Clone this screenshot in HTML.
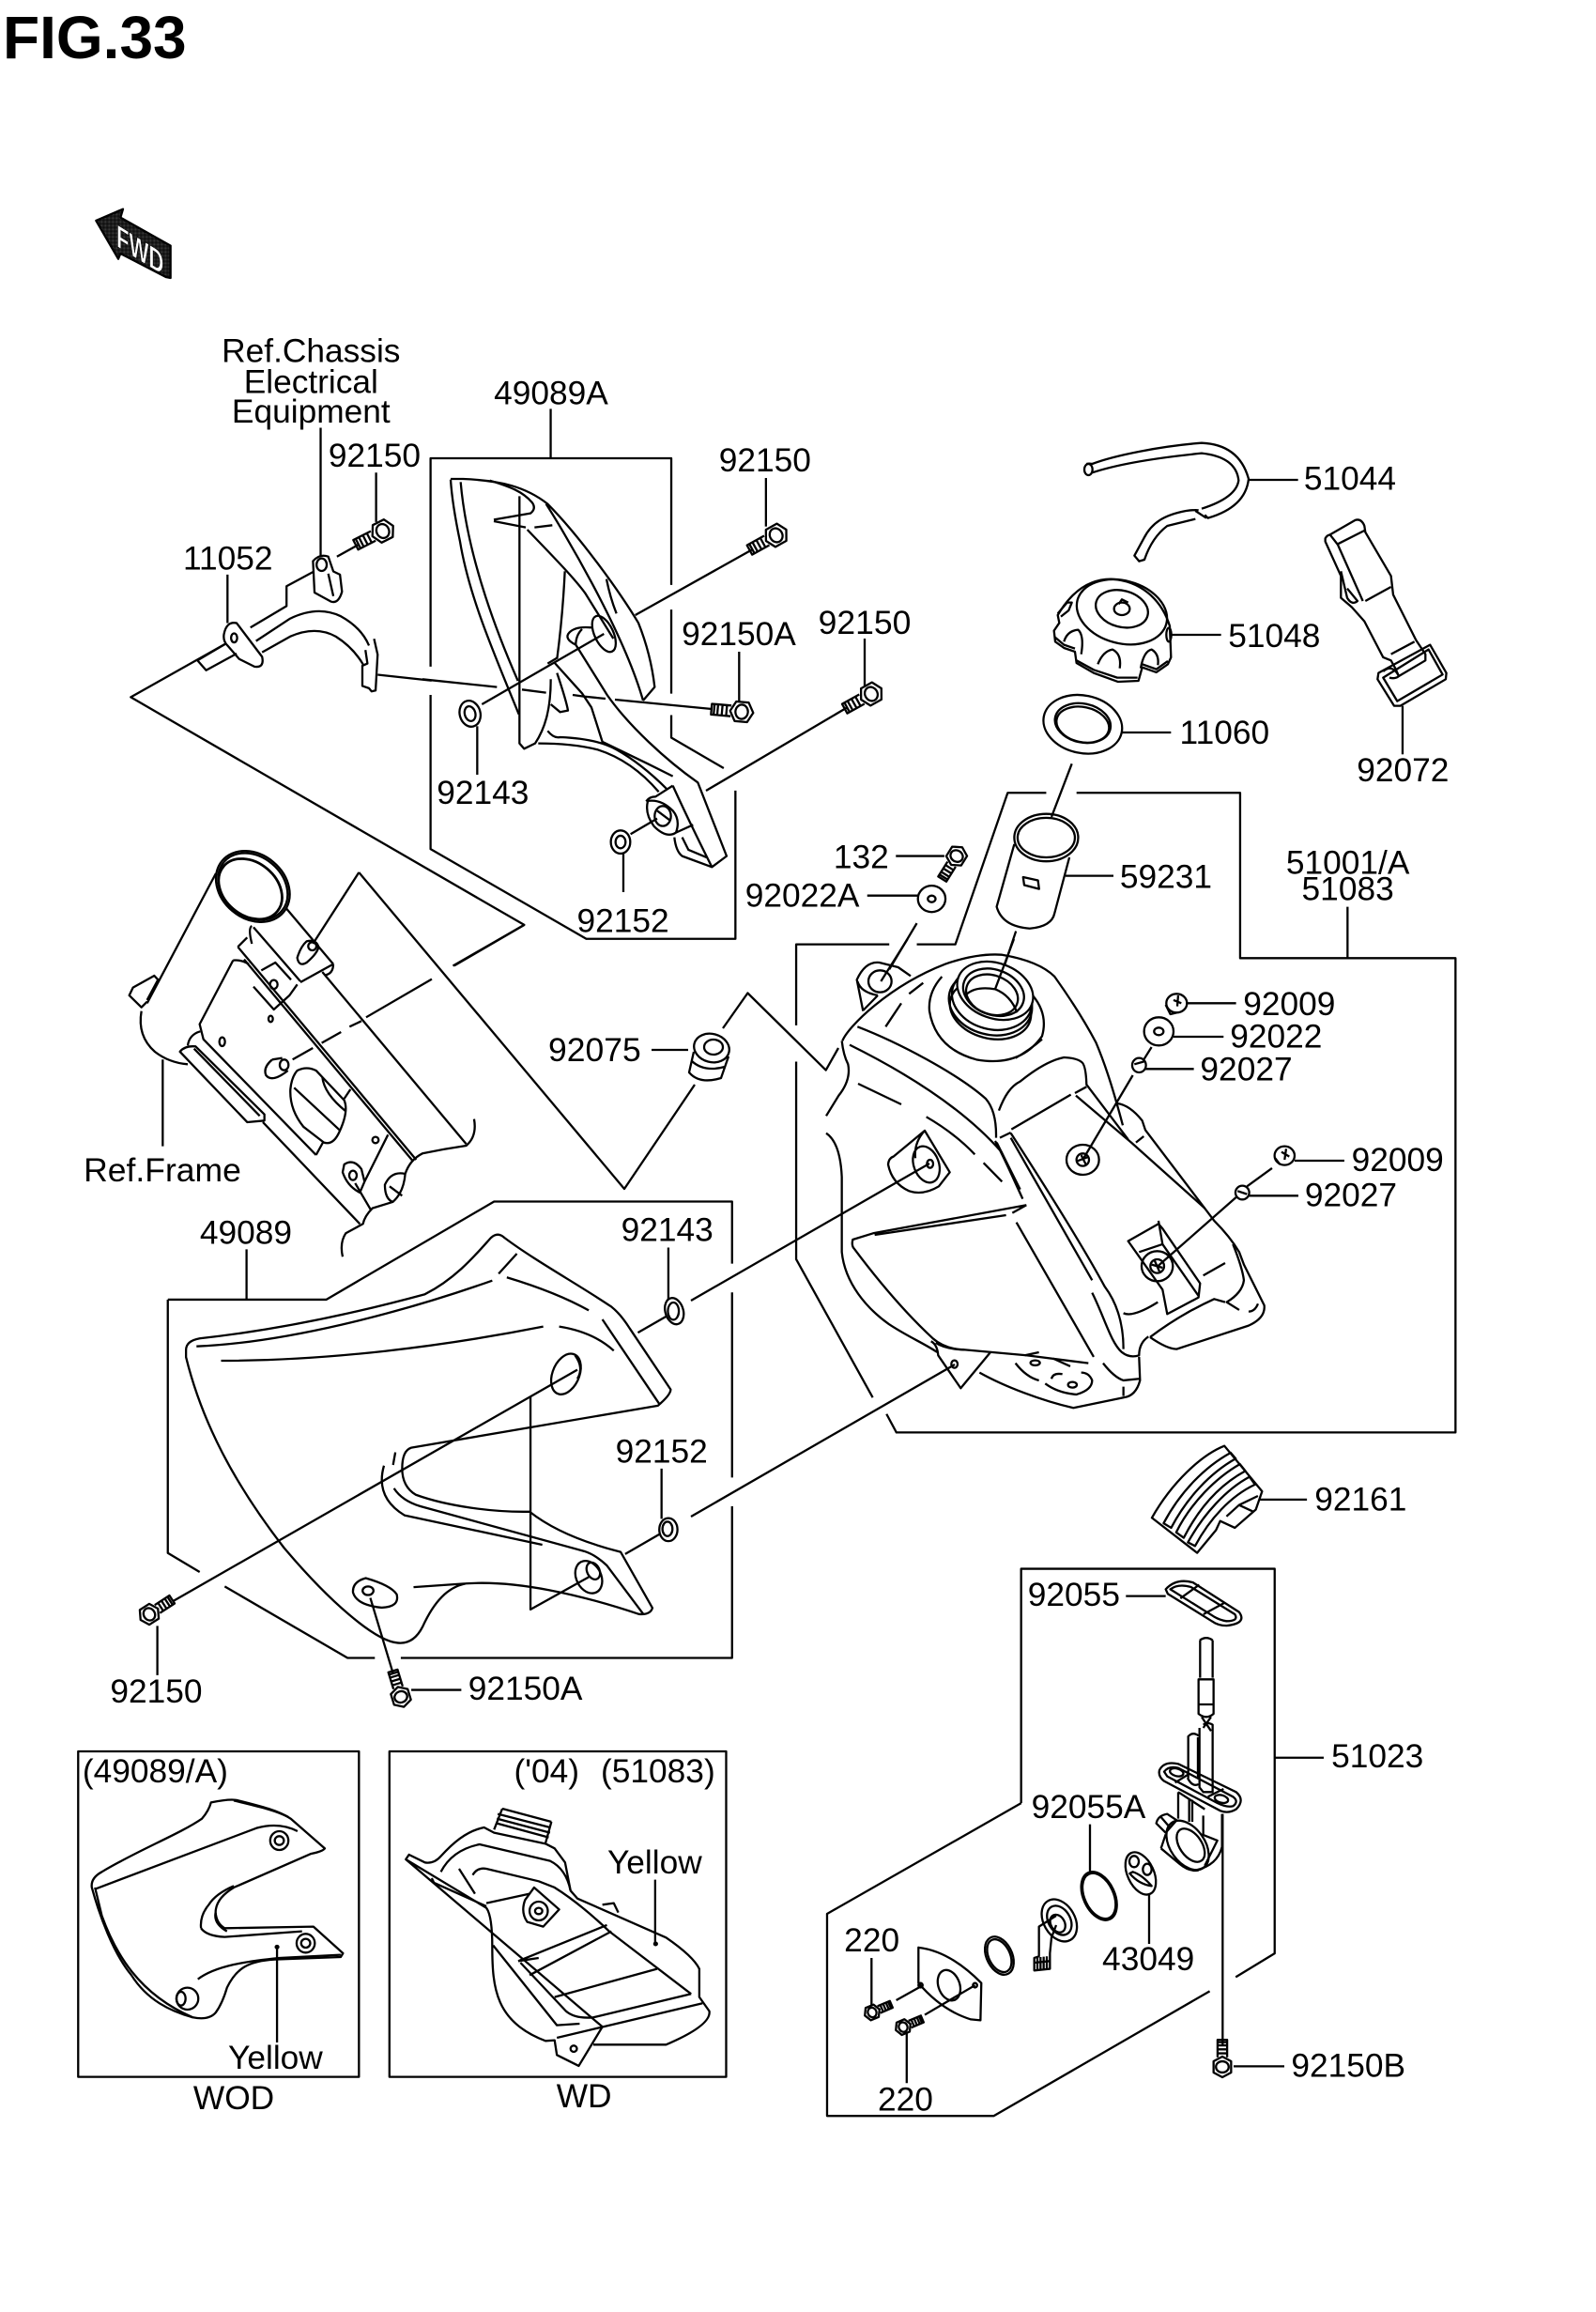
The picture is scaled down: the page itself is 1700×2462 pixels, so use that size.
<!DOCTYPE html>
<html><head><meta charset="utf-8"><style>
html,body{margin:0;padding:0;background:#fff}
svg{display:block}
path,ellipse,rect,circle{fill:none;stroke:#000;stroke-width:2.3;vector-effect:non-scaling-stroke;stroke-linejoin:round}
text{font-family:"Liberation Sans",sans-serif;font-size:35.5px;fill:#000}
.m{text-anchor:middle}
</style></head><body>
<svg width="1700" height="2462" viewBox="0 0 1700 2462" xmlns="http://www.w3.org/2000/svg">
<defs>
<pattern id="dots" width="4" height="4" patternUnits="userSpaceOnUse"><rect width="4" height="4" style="fill:#000;stroke:none"/><rect x="1" y="1" width="1.4" height="1.4" style="fill:#fff;stroke:none"/></pattern>
<g id="bolt">
<path d="M-7 -11 L7 -11 L13 0 L7 11 L-7 11 L-13 0 Z" style="fill:#fff"/>
<ellipse cx="0" cy="0" rx="7" ry="8"/>
<path d="M-12 -6 H-34 V6 H-12 M-17 -6 V6 M-22 -6 V6 M-27 -6 V6 M-31 -6 V6"/>
</g>
</defs>
<rect width="1700" height="2462" style="fill:#fff;stroke:none"/>

<text x="3" y="62" style="font-size:64px;font-weight:bold">FIG.33</text>
<g transform="scale(.3333)">
<path d="M307 705 L393 668 L385 695 L545 785 V888 L530 885 L385 810 L378 827 Z" style="fill:url(#dots)"/>
</g>
<text transform="matrix(.85 .53 0 1.3 124 262)" style="font-size:26px;font-weight:bold;fill:#fff;stroke:#000;stroke-width:.5">FWD</text>

<!-- upper-left group -->
<g transform="translate(0 300) scale(.5421 .4783)">
<path d="M630 325 V610 M739 425 V535 M662 612 L705 585 M447 652 V760 M1082 283 V393"/>
<path d="M846 857 V393 H1319 V675 M1319 730 V917 M1319 965 V1015 L1422 1083 M846 920 V1263 L1152 1463 H1445 V1133"/>
<path d="M445 805 L257 925 L1030 1432 L890 1523"/>
<path d="M615 622 Q628 605 645 612 L655 645 L668 652 L672 690 Q665 718 650 712 L618 692 Z"/>
<ellipse cx="632" cy="630" rx="10" ry="14"/><path d="M645 650 L655 700"/>
<path d="M617 645 L563 678 V722 L492 770"/>
<path d="M440 785 Q445 755 465 760 L515 835 Q520 860 500 857 L470 840 L447 810 Q438 800 440 785 Z"/>
<ellipse cx="460" cy="793" rx="6" ry="10"/>
<path d="M503 800 L570 750 Q625 720 670 745 Q710 770 725 810 M515 825 L570 790 Q620 765 660 790 Q695 815 715 855"/>
<path d="M735 795 L742 830 L738 910 L730 912 L725 905 L712 900 V855 L722 850 L718 820"/>
<path d="M388 843 L405 865 L465 828 M388 843 L445 805"/>
<path d="M742 875 L848 888"/>
<path d="M1505 437 V545"/>
</g>

<!-- panel 49089A -->
<g transform="translate(450 490) scale(.3333)">
<path d="M90 62 Q95 140 120 260 C150 440 230 620 308 812 M122 70 C135 220 180 420 305 705"/>
<path d="M90 60 H130 C250 65 330 85 400 140 C500 240 630 420 690 520 Q730 620 742 725 L705 768 M395 140 C440 210 640 540 705 768"/>
<path d="M228 190 L345 170 Q365 155 350 135 C320 100 280 85 215 65 M228 195 L330 215 M358 215 L415 208 M335 222 C390 280 480 370 520 425 Q560 490 610 570"/>
<path d="M310 115 V905 L325 922 L360 905 C390 860 410 800 410 700 M430 680 Q460 770 465 800 L440 805 L410 780"/>
<path d="M455 355 C450 460 440 560 430 635 M588 380 Q600 440 620 490"/>
<ellipse cx="580" cy="555" rx="30" ry="62" transform="rotate(-25 580 555)"/>
<path d="M490 590 Q450 570 470 550 Q490 530 540 535 M490 590 Q490 560 510 540"/>
<path d="M190 780 L580 555 M400 650 L430 632" />
<path d="M420 645 L510 745 L540 790 L575 900 L720 970 L800 1010 M490 590 L590 750 C660 850 780 960 880 1030 L972 1265 L925 1300 L830 1265 Q810 1250 805 1205"/>
<path d="M370 905 Q480 905 560 925 Q670 960 755 1060 M400 865 Q420 890 440 885 Q560 890 620 925 Q700 970 780 1050"/>
<path d="M715 1090 Q725 1075 745 1075 L800 1040 M720 1090 Q710 1130 740 1170 Q780 1210 810 1190 L865 1165 M715 1090 Q760 1080 800 1120 Q825 1150 810 1190 M830 1205 L850 1245 L910 1270 M800 1040 Q850 1150 925 1300"/>
<ellipse cx="768" cy="1137" rx="26" ry="32"/><path d="M750 1120 L790 1150"/>
<ellipse cx="152" cy="810" rx="33" ry="42" transform="rotate(-15 152 810)"/><ellipse cx="152" cy="810" rx="17" ry="24" transform="rotate(-15 152 810)"/>
<path d="M175 850 V1005"/>
<ellipse cx="633" cy="1220" rx="31" ry="37"/><ellipse cx="633" cy="1220" rx="16" ry="20"/>
<path d="M642 1255 V1380 M665 1195 L750 1145"/>
<path d="M0 700 L238 725 M318 733 L395 743 M480 750 L515 755 M515 755 L585 762 M615 765 L925 795 M680 495 L1055 285 M1012 612 V775"/>
</g>
<path d="M752 842 L903 753 M921 680 V730"/>
<use href="#bolt" transform="translate(407.7 565.5) rotate(-27) scale(.95)"/>
<use href="#bolt" transform="translate(826.7 570) rotate(-29) scale(.95)"/>
<use href="#bolt" transform="translate(790 758) rotate(5) scale(.95)"/>
<use href="#bolt" transform="translate(928 739) rotate(-29) scale(.95)"/>
<use href="#bolt" transform="translate(1019 911.6) rotate(-58) scale(.85)"/>

<g transform="translate(0 300) scale(.9949) translate(0 -300)">
<text class="m" x="333" y="386">Ref.Chassis</text>
<text class="m" x="333" y="419">Electrical</text>
<text class="m" x="333" y="451">Equipment</text>
<text class="m" x="590" y="431">49089A</text>
<text class="m" x="401" y="498">92150</text>
<text class="m" x="244" y="608">11052</text>
<text class="m" x="819" y="503">92150</text>
<text class="m" x="791" y="689">92150A</text>
<text class="m" x="517" y="859">92143</text>
<text class="m" x="667" y="996">92152</text>
</g>
<text class="m" x="921" y="675">92150</text>

<!-- frame -->
<g transform="translate(60 880) scale(.3333)">
<ellipse cx="628" cy="192" rx="128" ry="102" transform="rotate(40 628 192)"/>
<ellipse cx="628" cy="192" rx="121" ry="95" transform="rotate(40 628 192)"/>
<ellipse cx="620" cy="200" rx="112" ry="84" transform="rotate(40 620 200)" style="stroke-width:2.8"/>
<path d="M510 150 L290 565 M735 262 L885 440 M290 555 L325 490 L313 477 L245 515 L233 540 L272 578 L290 560"/>
<path d="M272 590 Q258 670 315 720 Q360 755 420 760"/>
<path d="M625 318 Q612 325 625 375 M630 322 L780 495 M885 440 L780 498 M885 440 Q885 470 860 475 M850 465 L1310 1015"/>
<path d="M770 420 Q780 385 800 367 Q830 360 838 385 Q835 405 800 435 Q775 450 770 420 Z"/>
<ellipse cx="818" cy="383" rx="13" ry="13"/>
<path d="M820 375 L967 147"/>
<path d="M1495 315 L1272 445 M1200 488 L990 610 M975 622 L937 640 M910 657 L848 692 M820 708 L755 745"/>
<path d="M580 385 L610 355 M580 385 L1150 1065 M600 425 L1140 1070"/>
<path d="M565 428 L458 632 L470 680 L830 1050 M565 428 Q590 425 615 440"/>
<path d="M655 460 L700 435 L750 490 M630 512 L695 585 L745 540 L770 505"/>
<ellipse cx="695" cy="505" rx="12" ry="14"/>
<ellipse cx="685" cy="615" rx="7" ry="10"/><ellipse cx="530" cy="688" rx="9" ry="14"/>
<path d="M395 720 L610 945 L665 940 L665 920 L445 703 Q410 700 395 720 Z M420 700 Q425 665 460 655 M440 710 L650 925 M660 945 L970 1270"/>
<ellipse cx="728" cy="762" rx="14" ry="17"/>
<path d="M690 745 Q660 770 670 795 Q690 820 740 780 M690 745 L722 740"/>
<path d="M770 780 Q800 765 830 780 L920 875 Q935 910 905 975 Q885 1020 855 1010 L790 960 Q745 905 748 840 Q752 800 770 780 Z"/>
<path d="M760 835 L905 970 M850 800 C855 850 900 890 925 910 M920 870 L940 840 M852 1010 L830 1050"/>
<ellipse cx="1020" cy="1002" rx="10" ry="10"/>
<path d="M1060 985 L985 1135 M920 1080 Q950 1060 975 1095 L985 1135 L970 1170 Q930 1150 915 1105 Z M955 1140 L1005 1225"/>
<ellipse cx="948" cy="1115" rx="12" ry="15"/>
<path d="M1115 1110 Q1070 1100 1050 1145 Q1050 1190 1075 1200 M1065 1150 L1105 1180"/>
<path d="M1335 935 Q1345 990 1310 1020 Q1240 1030 1170 1045 Q1130 1065 1115 1110 Q1110 1170 1075 1200 L1010 1220 Q985 1245 980 1270 L925 1300 Q905 1330 915 1375"/>
<path d="M340 745 V1022"/>
</g>
<text class="m" x="173" y="1258">Ref.Frame</text>

<!-- zigzag + grommet -->
<path d="M382.3 929 L665 1266 L740 1155 M770 1095 L796.4 1057.5 L879.7 1139.6 L893 1116"/>
<path d="M694 1118 H733"/>
<ellipse cx="758" cy="1116" rx="19" ry="15" transform="rotate(15 758 1116)"/>
<ellipse cx="760" cy="1115" rx="10" ry="8"/>
<path d="M739 1120 L734 1142 Q745 1155 768 1148 L776 1125 M737 1130 Q750 1142 772 1136"/>
<text x="584" y="1130">92075</text>

<!-- box + 92022A + filter -->
<g transform="translate(780 450) scale(.5867 .7015)">
<path d="M570 562 H500 L405 792 H335 M285 792 H116 V915 M116 970 V1270 L255 1480 M280 1505 L298 1533 H1313 V813 H922 V562 H625 M1117 735 V813"/>
<ellipse cx="362" cy="723" rx="25" ry="20"/><ellipse cx="362" cy="723" rx="7" ry="5"/>
<path d="M245 718 H338 M335 760 L285 830 M297 658 H385"/>
<ellipse cx="570" cy="630" rx="58" ry="36"/><ellipse cx="570" cy="630" rx="52" ry="30"/>
<path d="M512 640 L480 735 Q490 765 540 768 Q580 765 585 745 L612 660 M528 690 L555 695 L557 708 L530 702 Z M605 688 H692 M515 772 L478 865"/>
</g>

<!-- hose, cap, gasket, strap -->
<g transform="translate(1120 470) scale(.3333)">
<ellipse cx="118" cy="90" rx="13" ry="18"/>
<path d="M112 72 Q120 70 130 72 C200 45 350 15 480 5 Q600 10 630 120 Q620 210 500 245 L490 235 M130 100 C220 70 360 50 480 38 Q590 50 598 125 Q590 180 480 215 M470 220 Q460 218 430 222 C360 235 320 260 295 310 L265 365 L280 383 L297 378 C310 340 330 300 370 270 L460 248 M460 222 L495 245"/>
<path d="M632 123 H788"/>
<path d="M20 555 C70 470 130 440 190 440 C280 445 350 500 378 590 L382 690 L372 712 L335 738 L290 722 L278 765 L212 768 L135 740 L80 708 L75 672 L40 660 L12 640 L8 605 L25 580 Z"/>
<path d="M10 625 L40 650 L75 662 M80 700 L135 730 L210 755 L275 755 M290 712 L335 728 L372 702"/>
<path d="M40 640 Q50 605 85 602 Q105 620 95 680 M148 712 Q165 670 195 665 Q225 680 218 725 M285 725 Q295 670 320 665 Q345 680 340 715 M20 550 L50 515 L65 515 L55 540 L30 560"/>
<ellipse cx="225" cy="545" rx="147" ry="100" transform="rotate(15 225 545)"/>
<ellipse cx="225" cy="535" rx="85" ry="58" transform="rotate(15 225 535)"/>
<ellipse cx="225" cy="535" rx="25" ry="20"/>
<path d="M215 520 L225 505 L245 515"/>
<ellipse cx="375" cy="618" rx="8" ry="22"/>
<path d="M385 618 H542"/>
<ellipse cx="100" cy="904" rx="127" ry="92" transform="rotate(12 100 904)"/>
<ellipse cx="100" cy="900" rx="90" ry="62" transform="rotate(12 100 900)"/>
<ellipse cx="100" cy="905" rx="85" ry="56" transform="rotate(12 100 905)"/>
<path d="M225 930 H382 M65 1030 L0 1200"/>
<path d="M875 310 Q880 300 890 298 L970 252 Q990 245 1000 270 L1003 290 L1085 430 L1092 490 L1165 635 L1195 680 L1195 700 L1110 750 Q1100 725 1085 700 L1060 690 L1000 575 L960 530 L925 500 V430 L875 320 Z"/>
<path d="M890 298 L915 330 L995 510 M915 328 L1000 285 M1003 510 L1085 465 M1085 680 L1160 640 M925 415 L945 500 Q960 525 978 510 L945 470"/>
<path d="M1045 740 L1210 650 L1262 740 L1260 760 L1115 845 L1095 845 L1042 760 Z M1060 755 L1205 665 L1250 745 L1105 830 Z M1060 735 Q1090 710 1110 750 Q1100 760 1080 755"/>
<path d="M1122 845 V1000"/>
</g>

<!-- tank -->
<g transform="translate(880 1000) scale(.3333)">
<path d="M52 325 C70 280 200 150 380 80 Q480 45 560 50 Q680 70 730 120 C780 190 830 270 862 330 C900 420 925 510 948 595"/>
<path d="M100 280 C230 330 420 430 510 510 Q545 550 543 635 M75 338 C200 400 420 520 560 680 L628 830 M540 645 C570 700 600 770 628 830"/>
<path d="M50 325 Q55 370 70 400 Q80 450 40 500 L0 565"/>
<path d="M0 620 Q45 650 50 760 V1000 C60 1100 130 1180 200 1230 C260 1270 310 1290 355 1320 M350 1290 Q380 1310 440 1312 L640 1330 L838 1355"/>
<path d="M335 1285 Q355 1295 358 1330 L430 1435 L525 1320"/>
<ellipse cx="410" cy="1358" rx="10" ry="12"/>
<path d="M190 280 L240 205 M265 175 L310 140 M102 462 L240 528 M320 568 Q410 620 475 688 M503 715 L562 775"/>
<path d="M118 230 L98 130 Q125 70 170 75 L230 90 L270 118 M100 135 Q110 170 165 180 M118 228 L165 180 M175 135 L260 0"/>
<ellipse cx="172" cy="135" rx="37" ry="35"/>
<path d="M370 120 Q325 170 330 230 Q350 350 480 385 Q620 410 690 310 Q710 240 660 180 M605 380 Q650 355 690 320"/>
<ellipse cx="525" cy="205" rx="135" ry="100" transform="rotate(15 525 205)"/>
<ellipse cx="525" cy="225" rx="132" ry="92" transform="rotate(15 525 225)"/>
<ellipse cx="530" cy="190" rx="130" ry="98" transform="rotate(15 530 190)"/>
<ellipse cx="540" cy="165" rx="125" ry="88" transform="rotate(20 540 165)" style="fill:#fff"/>
<ellipse cx="535" cy="170" rx="100" ry="72" transform="rotate(20 535 170)"/>
<ellipse cx="530" cy="178" rx="85" ry="62" transform="rotate(20 530 178)"/>
<path d="M450 175 Q480 150 540 160 Q590 180 610 235 M540 160 L600 0"/>
<path d="M552 548 C570 500 590 470 620 455 Q700 390 760 378 Q800 380 815 392 Q830 400 832 465 L965 640"/>
<path d="M592 608 L782 497 M555 635 L590 618 M795 492 L832 472 M798 500 L975 650 L1210 860"/>
<path d="M930 525 Q970 530 1010 580 L1020 610 L1240 900 Q1290 950 1320 1000 L1335 1040 L1400 1170 Q1405 1210 1350 1235 L1120 1310 Q1090 1310 1035 1272"/>
<path d="M1300 975 Q1330 1050 1335 1090 Q1330 1130 1280 1160 L1320 1185 M1350 1190 Q1370 1190 1380 1165"/>
<path d="M1030 1270 Q1000 1290 1000 1330 Q970 1340 945 1320 C910 1290 890 1210 850 1130 M1035 1272 Q1130 1200 1240 1150 L1275 1160 M950 1195 Q980 1210 1060 1160"/>
<path d="M590 620 C700 790 820 980 890 1110 Q950 1190 950 1310 M590 635 L850 1090 M545 650 L620 800 M608 905 L855 1335"/>
<path d="M640 850 L150 940 L85 960 Q80 980 90 990 C180 1110 270 1210 340 1275 Q380 1310 440 1312 M640 850 L595 875 M575 882 L155 945"/>
<path d="M1000 1335 L1003 1410 Q990 1460 950 1465 L790 1498 C690 1475 570 1430 490 1385 M885 1355 Q920 1400 950 1410 L1000 1405 M950 1430 V1460"/>
<path d="M605 1355 Q640 1400 680 1410 M700 1420 Q740 1450 800 1455 Q850 1440 850 1410 Q840 1385 815 1385 M725 1340 L780 1365 M720 1405 Q725 1385 755 1390 M635 1330 L680 1320"/>
<ellipse cx="668" cy="1354" rx="15" ry="8"/><ellipse cx="787" cy="1424" rx="14" ry="9"/>
<path d="M198 720 Q200 700 215 695 L315 612 L395 745 L360 790 Q310 820 265 805 Q210 780 198 720 Z M315 612 Q280 650 285 700"/>
<ellipse cx="320" cy="720" rx="40" ry="60" transform="rotate(-20 320 720)"/>
<ellipse cx="332" cy="718" rx="10" ry="13"/>
<ellipse cx="820" cy="705" rx="52" ry="48"/><ellipse cx="820" cy="705" rx="20" ry="20"/>
<path d="M800 710 L840 695 M815 690 L830 720 M820 705 L980 435 M1040 345 L1015 385"/>
<ellipse cx="1120" cy="205" rx="33" ry="30"/>
<path d="M1085 210 L1100 240 L1120 235 M1110 195 L1135 205 M1125 180 L1122 215 M1150 205 H1310"/>
<ellipse cx="1063" cy="295" rx="47" ry="45"/><ellipse cx="1063" cy="295" rx="15" ry="12"/>
<path d="M1110 312 H1270"/>
<ellipse cx="1000" cy="403" rx="22" ry="23"/>
<path d="M985 400 L1020 390 M1020 415 H1175"/>
<ellipse cx="1465" cy="692" rx="32" ry="30"/>
<path d="M1435 700 L1450 720 M1455 680 L1480 695 M1470 670 L1465 705 M1497 708 H1656"/>
<ellipse cx="1330" cy="810" rx="22" ry="22"/>
<path d="M1315 805 L1345 815 M1350 820 H1509 M1425 732 L1345 790 M1310 825 L1060 1045"/>
<path d="M965 965 L1062 910 L1075 925 L1195 1100 L1190 1145 L1090 1198 L1075 1120 L965 965 Z M1062 900 L1075 975 L1190 1140 M1000 1000 L1075 975"/>
<ellipse cx="1058" cy="1045" rx="50" ry="48"/><ellipse cx="1058" cy="1045" rx="22" ry="22"/>
<path d="M1040 1040 L1075 1050 M1050 1028 L1065 1062 M1205 1075 L1275 1035 M990 650 L1015 630"/>
</g>
<path d="M736 1385 L990 1239 M736 1615 L1017 1453"/>

<g transform="translate(780 450) scale(.9949) translate(-780 -450)">
<text x="1392" y="522">51044</text>
<text x="1311" y="690">51048</text>
<text x="1259" y="794">11060</text>
<text class="m" x="1498" y="834">92072</text>
<text class="m" x="918" y="927">132</text>
<text class="m" x="855" y="968">92022A</text>
<text x="1195" y="948">59231</text>
<text class="m" x="1439" y="933">51001/A</text>
<text class="m" x="1439" y="961">51083</text>
<text x="1327" y="1084">92009</text>
<text x="1313" y="1119">92022</text>
<text x="1281" y="1154">92027</text>
<text x="1443" y="1251">92009</text>
<text x="1393" y="1289">92027</text>
</g>

<!-- lower-left panel -->
<g transform="translate(60 1250) scale(.4847 .3827)">
<path d="M245 350 H593 L962 77 H1485 V250 M1485 330 V845 M1485 925 V1347 H757 M700 1347 H640 L370 1148 M315 1108 L245 1055 V350"/>
<path d="M418 210 V350 M1345 205 V350"/>
<ellipse cx="1358" cy="382" rx="20" ry="37" transform="rotate(-10 1358 382)"/><ellipse cx="1356" cy="382" rx="12" ry="24"/>
<path d="M1278 442 L1340 397"/>
<ellipse cx="1345" cy="990" rx="20" ry="32"/><ellipse cx="1343" cy="988" rx="11" ry="20"/>
<path d="M1250 1058 L1325 1003 M1330 820 V960"/>
<path d="M285 490 Q285 465 315 458 C480 435 650 390 810 335 C880 290 925 220 955 178 Q970 160 985 178 C1050 240 1150 310 1220 370 Q1240 390 1260 430 L1350 600 Q1350 615 1322 645 L780 762 Q760 770 760 820 Q760 870 790 893 C860 925 960 942 1040 940 C1080 980 1140 1020 1240 1052 L1310 1208 Q1305 1228 1280 1225 C1150 1170 1010 1130 900 1140 C860 1150 830 1190 805 1260 Q785 1310 750 1305 C700 1300 600 1190 500 1040 C390 860 320 690 285 510 Z M785 1150 L900 1140"/>
<path d="M308 480 C500 470 750 390 958 297 M990 288 Q1100 330 1170 380 M972 278 L1012 222 M1200 405 L1325 640 M362 520 C600 520 850 480 1070 425 M1105 425 Q1180 440 1225 492 M745 775 L740 810 M720 812 Q700 900 765 950 L1068 1032 M742 875 Q760 910 800 925 L1160 1050 Q1185 1060 1210 1090 L1290 1225"/>
<ellipse cx="1120" cy="557" rx="30" ry="58" transform="rotate(15 1120 557)"/>
<path d="M1140 505 Q1160 540 1145 570"/>
<path d="M1042 618 V1212 L1170 1122 M258 1188 L1145 545"/>
<ellipse cx="1170" cy="1122" rx="28" ry="46" transform="rotate(-15 1170 1122)"/><ellipse cx="1180" cy="1105" rx="14" ry="24" transform="rotate(-15 1180 1105)"/>
<path d="M680 1125 Q650 1135 652 1165 Q660 1200 715 1207 Q755 1205 748 1170 Q735 1145 680 1125 Z"/>
<ellipse cx="685" cy="1160" rx="12" ry="12"/>
<path d="M690 1180 L740 1390 M780 1436 H890 M222 1258 V1395"/>
</g>
<use href="#bolt" transform="translate(159 1719) rotate(147) scale(.85)"/>
<use href="#bolt" transform="translate(427 1807) rotate(73) scale(.85)"/>
<g transform="translate(60 1250) scale(.9949) translate(-60 -1250)">
<text class="m" x="263" y="1325">49089</text>
<text class="m" x="714" y="1322">92143</text>
<text class="m" x="708" y="1559">92152</text>
<text class="m" x="167" y="1816">92150</text>
<text x="501" y="1813">92150A</text>
</g>

<!-- inset boxes -->
<g transform="translate(60 1840) scale(.4847 .3333)">
<rect x="48" y="75" width="617" height="1040"/>
<rect x="732" y="75" width="740" height="1040"/>
<path d="M340 238 Q385 225 400 232 C450 250 490 265 515 290 L590 385 Q585 395 560 402 L390 510 Q350 545 350 590 Q352 625 370 640 L565 635 L630 720 L625 732 L480 740 C420 745 395 770 375 830 Q365 880 350 910 Q335 935 300 925 C250 905 200 870 165 790 C125 720 95 600 78 510 Q75 480 100 460 C180 390 270 340 320 290 Q335 265 340 238 Z"/>
<path d="M85 515 L440 320 Q490 300 530 330 M318 640 Q315 600 335 565 Q350 530 390 505 M318 640 Q330 665 370 668 L540 650 M350 590 Q345 625 375 650 M390 232 C440 250 480 262 510 285 M311 803 C350 760 420 745 490 735 L625 725 M85 510 L100 600 C130 720 180 850 300 925"/>
<ellipse cx="490" cy="360" rx="20" ry="30"/><ellipse cx="490" cy="360" rx="10" ry="14"/>
<ellipse cx="548" cy="688" rx="20" ry="30"/><ellipse cx="548" cy="688" rx="10" ry="14"/>
<ellipse cx="288" cy="865" rx="24" ry="35"/><ellipse cx="274" cy="865" rx="10" ry="22"/>
<path d="M485 700 V1005"/><ellipse cx="485" cy="700" rx="3" ry="4" style="fill:#000"/>
<path d="M980 258 L1088 300 M970 275 L1085 318 M968 290 L1085 335 M968 305 L1082 350 M980 258 L962 325 M1088 300 L1075 368"/>
<path d="M768 420 L775 405 L810 430 Q830 435 845 410 C870 370 900 330 940 318 L962 335 L1075 370 L1095 385 L1118 430 L1130 520 L1145 545 L1340 670 Q1400 730 1413 770 L1413 860 L1435 905 Q1440 950 1340 1012 L1180 1012 M1200 955 L1148 1080 L1100 1045 L1095 998 L1075 1000 C965 940 958 830 958 700 Q958 600 945 575 L768 420 Z"/>
<path d="M845 460 Q870 390 930 372 L1085 425 Q1120 450 1130 520 M825 480 L830 495 L945 570 M885 450 L920 530 M945 560 L1040 530 M915 470 Q925 445 945 450 L1060 490 L1095 510 Q1150 560 1215 650 L1395 850"/>
<path d="M1050 510 L1105 580 L1070 635 L1035 620 Q1020 590 1030 550 Z"/>
<ellipse cx="1060" cy="585" rx="20" ry="30"/><ellipse cx="1060" cy="585" rx="8" ry="10"/>
<path d="M1015 745 L1210 630 M1020 750 L1120 905 Q1140 930 1180 925 L1395 850 M1040 790 L1220 650 M1095 860 L1320 770 M1015 745 L1060 735 M960 695 L1100 950 L1150 945 M1100 990 L1420 880"/>
<ellipse cx="1137" cy="1025" rx="7" ry="10"/>
<path d="M1316 485 V690 M1200 565 L1225 560 L1235 590"/><ellipse cx="1317" cy="690" rx="3" ry="4" style="fill:#000"/>
</g>
<g transform="translate(60 0) scale(.9949 1) translate(-60 0)">
<text x="88" y="1898">(49089/A)</text>
<text x="550" y="1898">('04)</text>
<text x="643" y="1898">(51083)</text>
<text x="650" y="1995">Yellow</text>
<text x="244" y="2203">Yellow</text>
<text class="m" x="250" y="2246">WOD</text>
<text class="m" x="625" y="2244">WD</text>
</g>

<!-- rubber + box + plate group -->
<g transform="translate(860 1530) scale(.4464 .4847)">
<path d="M822 178 C870 100 940 40 995 20 L1085 120 L1070 160 L1020 200 L985 185 L975 205 L930 255 Z"/>
<path d="M850 190 C890 120 950 65 1010 35 L1022 48 C960 80 905 135 868 200 Z M880 210 C915 145 975 90 1032 60 L1045 75 C985 105 935 155 898 222 Z M908 232 C945 170 1000 115 1055 88 L1068 105 C1010 130 960 180 925 240 Z"/>
<path d="M1075 130 L1030 150 L1000 175 M1030 150 L1065 165 M1080 138 H1192"/>
<path d="M510 805 V290 H1115 V1135 L1022 1187 M960 1218 L445 1492 H47 V1048 L510 805 M1115 705 H1232"/>
<path d="M855 335 Q880 310 920 320 L1030 385 Q1050 410 1000 415 Q980 415 965 405 L860 345 Z M866 335 Q885 322 915 330 L1020 390 Q1030 405 1000 405 Q985 403 970 395 Z M890 355 L935 325 M945 390 L995 365 M760 350 H855"/>
<ellipse cx="458" cy="1140" rx="30" ry="45" transform="rotate(-30 458 1140)"/>
<ellipse cx="458" cy="1140" rx="25" ry="39" transform="rotate(-30 458 1140)"/>
<path d="M265 1122 Q340 1130 415 1200 L413 1282 L390 1280 Q320 1260 265 1200 Z"/>
<ellipse cx="338" cy="1205" rx="25" ry="35" transform="rotate(-25 338 1205)"/>
<ellipse cx="270" cy="1205" rx="5" ry="5"/><ellipse cx="400" cy="1205" rx="5" ry="5"/>
<path d="M212 1238 L270 1208 M280 1270 L400 1205 M153 1145 V1255 M237 1310 V1420 M1017 1383 H1138"/>
</g>

<!-- fuel tap -->
<g transform="translate(1100 1750) scale(.3333)">
<path d="M534 -10 Q555 -25 575 -10 M535 -10 V110 M575 -10 V110 M530 115 H578 V195 H530 Z M530 195 V225 Q555 245 578 225 V195 M540 235 L570 280 M570 235 L545 270 M533 270 V460 L545 475 H575 V260 Q560 250 545 260"/>
<path d="M495 300 Q510 280 530 295 M497 300 V430 M528 300 V430 M495 430 Q510 460 530 450"/>
<path d="M405 405 Q420 375 465 385 L650 475 Q680 500 650 530 Q625 545 600 535 L420 440 Q400 425 405 405 Z M420 410 Q435 390 465 398 L640 490 Q660 505 640 520 Q620 525 590 510 L430 425 Z"/>
<ellipse cx="460" cy="412" rx="22" ry="12" transform="rotate(15 460 412)"/><ellipse cx="603" cy="497" rx="22" ry="12" transform="rotate(15 603 497)"/>
<path d="M455 445 L495 420 M560 490 L610 465"/>
<path d="M465 475 V560 M500 500 V570 M510 500 V570 M465 475 L550 530 M545 550 V610 M605 545 V650 Q590 710 520 725"/>
<ellipse cx="495" cy="645" rx="55" ry="88" transform="rotate(-35 495 645)"/>
<ellipse cx="505" cy="645" rx="35" ry="60" transform="rotate(-35 505 645)"/>
<path d="M540 610 L590 630 L575 660 L550 710 M395 575 Q400 550 430 545 L460 565 L425 605 Z M410 555 L440 590 M410 655 L425 610 M410 655 L470 705 Q500 730 530 725"/>
<path d="M607 545 V1284"/>
<ellipse cx="212" cy="807" rx="50" ry="82" transform="rotate(-25 212 807)"/>
<ellipse cx="212" cy="807" rx="46" ry="77" transform="rotate(-25 212 807)"/>
<path d="M183 578 V730"/>
<ellipse cx="345" cy="735" rx="42" ry="72" transform="rotate(-25 345 735)"/>
<ellipse cx="324" cy="697" rx="15" ry="18"/><ellipse cx="366" cy="722" rx="14" ry="18"/>
<path d="M310 735 Q340 770 380 775 Q350 740 320 730 Z M372 800 V960"/>
<ellipse cx="85" cy="885" rx="50" ry="72" transform="rotate(-30 85 885)"/>
<ellipse cx="85" cy="885" rx="35" ry="50" transform="rotate(-30 85 885)"/>
<ellipse cx="80" cy="895" rx="22" ry="30" transform="rotate(-30 80 895)"/>
<path d="M75 870 L20 905 V1000 L5 1005 V1045 L55 1040 V990 L60 940 L75 900 M15 1003 V1043 M25 1002 V1042 M35 1001 V1041 M45 1000 V1040 M5 1020 L55 1015"/>
</g>
<use href="#bolt" transform="translate(1302 2201) rotate(90) scale(.85)"/>
<use href="#bolt" transform="translate(929 2143) rotate(157) scale(.65)"/>
<use href="#bolt" transform="translate(962 2158.6) rotate(157) scale(.65)"/>
<g transform="translate(860 1530) scale(.9949) translate(-860 -1530)">
<text x="1403" y="1609">92161</text>
<text x="1096" y="1711">92055</text>
<text x="1421" y="1884">51023</text>
<text class="m" x="1161" y="1938">92055A</text>
<text class="m" x="1225" y="2101">43049</text>
<text class="m" x="929" y="2081">220</text>
<text class="m" x="965" y="2251">220</text>
<text x="1378" y="2215">92150B</text>
</g>
</svg>
</body></html>
